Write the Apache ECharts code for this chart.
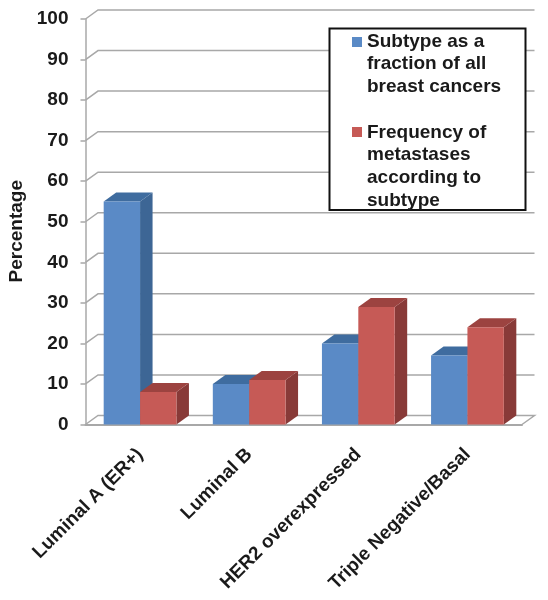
<!DOCTYPE html>
<html>
<head>
<meta charset="utf-8">
<script src="https://cdn.jsdelivr.net/npm/echarts@6/dist/echarts.min.js"></script>
<style>
  html, body { margin: 0; padding: 0; background: #fff; }
  #chart { width: 548px; height: 600px; }
</style>
</head>
<body>
<div id="chart"></div>
<script>
const categories = ['Luminal A (ER+)', 'Luminal B', 'HER2 overexpressed', 'Triple Negative/Basal'];
const subtypeValues = [55, 10, 20, 17];
const metastasesValues = [8, 11, 29, 24];
const yTicks = [0, 10, 20, 30, 40, 50, 60, 70, 80, 90, 100];
const subtypeName = 'Subtype as a\nfraction of all\nbreast cancers';
const metastasesName = 'Frequency of\nmetastases\naccording to\nsubtype';

const FONT = '"Liberation Sans", Arial, sans-serif';
const TEXT_COLOR = '#1a1a1a';
const DEPTH_X = 12.5;
const DEPTH_Y = 9;
const GRID_COLOR = '#a8a8a8';

const chart = echarts.init(document.getElementById('chart'));

function gridItem(params, api) {
  const v = api.value(0);
  const y = api.coord([0, v])[1];
  const x0 = params.coordSys.x;
  const x1 = x0 + params.coordSys.width;
  const points = [[x0, y], [x0 + DEPTH_X, y - DEPTH_Y], [x1 + DEPTH_X, y - DEPTH_Y]];
  if (v === 0) points.push([x1, y]);
  return {
    type: 'polyline',
    shape: { points },
    style: { stroke: GRID_COLOR, lineWidth: 1.5, fill: null },
    silent: true
  };
}

// seriesIdx 0 sits left of the category centre, 1 right of it
function barItem(colors, seriesIdx) {
  return (params, api) => {
    const [cx, top] = api.coord([api.value(0), api.value(1)]);
    const [, base] = api.coord([api.value(0), 0]);
    const w = api.size([1, 0])[0] / 3;
    const l = cx + (seriesIdx - 1) * w;
    const r = l + w;
    return {
      type: 'group',
      children: [
        {
          type: 'polygon',
          shape: { points: [[r, top], [r + DEPTH_X, top - DEPTH_Y], [r + DEPTH_X, base - DEPTH_Y], [r, base]] },
          style: { fill: colors.side }
        },
        {
          type: 'polygon',
          shape: { points: [[l, top], [l + DEPTH_X, top - DEPTH_Y], [r + DEPTH_X, top - DEPTH_Y], [r, top]] },
          style: { fill: colors.top }
        },
        {
          type: 'rect',
          shape: { x: l, y: top, width: w, height: base - top },
          style: { fill: colors.front }
        }
      ]
    };
  };
}

const blue = { front: '#5a8ac6', top: '#3f6c9f', side: '#3d6695' };
const red = { front: '#c65a56', top: '#9c4340', side: '#883a38' };

chart.setOption({
  animation: false,
  grid: { left: 85.5, right: 26, top: 19, bottom: 175.5, outerBoundsMode: 'none' },
  xAxis: {
    type: 'category',
    data: categories,
    axisLine: { show: true, lineStyle: { color: GRID_COLOR, width: 2 } },
    axisTick: { show: false },
    axisLabel: {
      rotate: 45,
      interval: 0,
      margin: 27,
      color: TEXT_COLOR,
      fontFamily: FONT,
      fontWeight: 'bold',
      fontSize: 19
    }
  },
  yAxis: {
    type: 'value',
    min: 0,
    max: 100,
    interval: 10,
    name: 'Percentage',
    nameLocation: 'middle',
    nameRotate: 90,
    nameGap: 58,
    nameTextStyle: { color: TEXT_COLOR, fontFamily: FONT, fontWeight: 'bold', fontSize: 19, padding: [0, 19, 0, 0] },
    axisLine: { show: true, lineStyle: { color: GRID_COLOR, width: 1.5 } },
    axisTick: { show: true, length: 5, lineStyle: { color: GRID_COLOR, width: 1.5 } },
    splitLine: { show: false },
    axisLabel: { margin: 17, padding: [3, 0, 0, 0], color: TEXT_COLOR, fontFamily: FONT, fontWeight: 'bold', fontSize: 19 }
  },
  series: [
    {
      type: 'custom',
      z: 1,
      silent: true,
      renderItem: gridItem,
      data: yTicks.map(v => [v]),
      encode: { y: 0 }
    },
    {
      type: 'custom',
      name: subtypeName,
      z: 2,
      renderItem: barItem(blue, 0),
      data: subtypeValues.map((v, i) => [i, v]),
      encode: { x: 0, y: 1 }
    },
    {
      type: 'custom',
      name: metastasesName,
      z: 3,
      renderItem: barItem(red, 1),
      data: metastasesValues.map((v, i) => [i, v]),
      encode: { x: 0, y: 1 }
    }
  ],
  graphic: [
    {
      type: 'rect',
      z: 10,
      shape: { x: 329.5, y: 28.5, width: 196, height: 181.5 },
      style: { fill: '#fff', stroke: '#111', lineWidth: 2 }
    },
    {
      type: 'rect',
      z: 11,
      shape: { x: 352, y: 37, width: 10, height: 10 },
      style: { fill: blue.front }
    },
    {
      type: 'text',
      z: 11,
      left: 367,
      top: 30,
      style: { text: subtypeName, fill: TEXT_COLOR, font: 'bold 19px ' + FONT, lineHeight: 22.7 }
    },
    {
      type: 'rect',
      z: 11,
      shape: { x: 352, y: 127, width: 10, height: 10 },
      style: { fill: red.front }
    },
    {
      type: 'text',
      z: 11,
      left: 367,
      top: 121,
      style: { text: metastasesName, fill: TEXT_COLOR, font: 'bold 19px ' + FONT, lineHeight: 22.7 }
    }
  ]
});

window.addEventListener('resize', () => chart.resize());
</script>
</body>
</html>
